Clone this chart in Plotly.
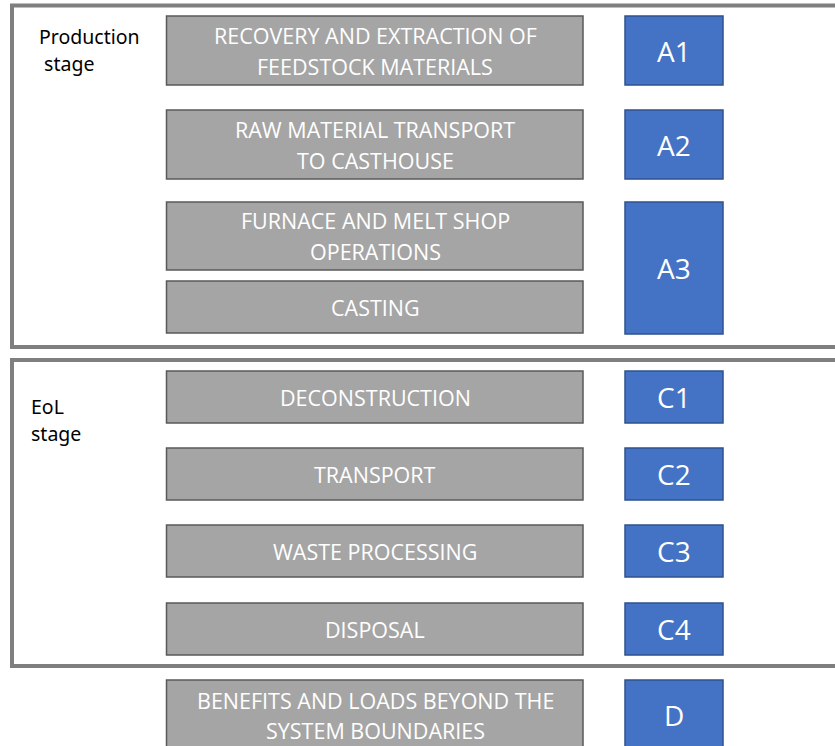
import plotly.graph_objects as go

# ---- content ----
stage_labels = ["Production<br> stage", "EoL<br>stage"]
process_labels = [
    "RECOVERY AND EXTRACTION OF<br>FEEDSTOCK MATERIALS",
    "RAW MATERIAL TRANSPORT<br>TO CASTHOUSE",
    "FURNACE AND MELT SHOP<br>OPERATIONS",
    "CASTING",
    "DECONSTRUCTION",
    "TRANSPORT",
    "WASTE PROCESSING",
    "DISPOSAL",
    "BENEFITS AND LOADS BEYOND THE<br>SYSTEM BOUNDARIES",
]
module_codes = ["A1", "A2", "A3", "C1", "C2", "C3", "C4", "D"]

# ---- layout geometry (pixels, y downwards) ----
W, H = 835, 746
proc_rows = [(16, 85), (110, 179), (202, 270), (281, 333), (371, 423),
             (448, 500), (525, 577), (603, 655), (680, 749)]
mod_rows = [(16, 85), (110, 179), (202, 334), (371, 423), (448, 500),
            (525, 577), (603, 655), (680, 760)]
frames = [(12, 5.5, 860, 347), (12, 360, 860, 666)]
stage_pos = [(37, 36), (29, 406)]

GRAY_FILL, GRAY_LINE = "#a5a5a5", "#595959"
BLUE_FILL, BLUE_LINE = "#4472c4", "#2f528f"
FRAME = "#7f7f7f"
FONT = "Open Sans"

fig = go.Figure()
fig.add_trace(go.Scatter(x=[0, W], y=[0, H], mode="markers",
                         marker=dict(opacity=0), hoverinfo="skip", showlegend=False))

shapes, annos = [], []
for (x0, y0, x1, y1) in frames:
    shapes.append(dict(type="rect", xref="x", yref="y", x0=x0, y0=y0, x1=x1, y1=y1,
                       line=dict(color=FRAME, width=4), fillcolor="rgba(0,0,0,0)"))

for label, (y0, y1) in zip(process_labels, proc_rows):
    shapes.append(dict(type="rect", xref="x", yref="y", x0=166.5, x1=583, y0=y0, y1=y1,
                       line=dict(color=GRAY_LINE, width=1.5), fillcolor=GRAY_FILL))
    lines = label.split("<br>")
    yc = (y0 + y1) / 2
    if len(lines) == 1:
        ys = [yc]
    else:
        ys = [yc - 15.5, yc + 15.5]
    if y1 > H:
        ys = [700, 730]
    for t, yy in zip(lines, ys):
        annos.append(dict(x=375, y=yy, xref="x", yref="y", text=t, showarrow=False,
                          font=dict(family=FONT, size=21.5, color="white"),
                          xanchor="center", yanchor="middle"))

for code, (y0, y1) in zip(module_codes, mod_rows):
    shapes.append(dict(type="rect", xref="x", yref="y", x0=625, x1=723, y0=y0, y1=y1,
                       line=dict(color=BLUE_LINE, width=1.5), fillcolor=BLUE_FILL))
    yc = (y0 + y1) / 2 if y1 <= H else 715
    annos.append(dict(x=674, y=yc, xref="x", yref="y", text=code, showarrow=False,
                      font=dict(family=FONT, size=28, color="white"),
                      xanchor="center", yanchor="middle"))

for label, (x, y) in zip(stage_labels, stage_pos):
    lines = label.split("<br>")
    for i, t in enumerate(lines):
        annos.append(dict(x=x, y=y + i * 27, xref="x", yref="y", text=t, showarrow=False,
                          font=dict(family="Noto Sans", size=19.5, color="black"),
                          xanchor="left", yanchor="middle"))

fig.update_layout(
    width=W, height=H, margin=dict(l=0, r=0, t=0, b=0),
    paper_bgcolor="white", plot_bgcolor="white",
    xaxis=dict(range=[0, W], visible=False, fixedrange=True),
    yaxis=dict(range=[H, 0], visible=False, fixedrange=True),
    shapes=shapes, annotations=annos, showlegend=False,
)
fig.write_html("out.html", config={"displayModeBar": False},
               post_script="document.body.style.margin='0';")
